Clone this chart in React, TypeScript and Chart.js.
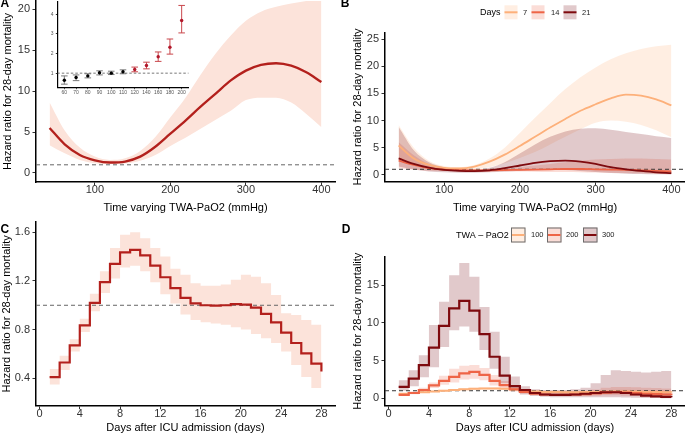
import React, { useEffect, useRef } from 'react';
import { Chart, registerables } from 'chart.js';

Chart.register(...registerables);

const FONT = "'Liberation Sans', Arimo, Arial, Helvetica, sans-serif";

// ---------- Panel A: overall HR vs TWA-PaO2 ----------
const pao2 = [40, 60, 80, 100, 120, 140, 160, 180, 200, 220, 240, 260, 280, 300, 320, 340, 360, 380, 400];
const hrA = [5.5, 3.5, 2.2, 1.55, 1.28, 1.4, 2.0, 3.2, 4.8, 6.4, 8.1, 9.7, 11.3, 12.5, 13.2, 13.4, 13.1, 12.3, 11.1];
const hrAHigh = [8.6, 5.2, 3.1, 2.0, 1.6, 1.8, 2.7, 4.4, 6.8, 9.2, 12.0, 14.6, 16.8, 18.6, 19.7, 20.3, 20.7, 21.0, 21.3];
const hrALow = [3.4, 2.4, 1.6, 1.2, 1.1, 1.15, 1.5, 2.2, 3.3, 4.3, 5.4, 6.5, 7.6, 8.9, 9.2, 9.2, 8.6, 7.2, 5.6];

// ---------- Inset: categorical TWA-PaO2 ----------
const insetCats = ['60', '70', '80', '90', '100', '110', '120', '140', '160', '180', '200'];
const insetHR = [0.64, 0.78, 0.86, 1.02, 1.0, 1.07, 1.19, 1.39, 1.84, 2.32, 3.68];
const insetLow = [0.44, 0.62, 0.76, 0.91, 0.93, 0.97, 1.07, 1.22, 1.6, 1.97, 3.05];
const insetHigh = [0.86, 0.91, 0.97, 1.12, 1.1, 1.17, 1.31, 1.56, 2.08, 2.74, 4.45];
const insetRedStart = 6;

// ---------- Panel B: HR vs TWA-PaO2 by day ----------
const hrDay7 = [5.4, 3.0, 1.8, 1.25, 1.15, 1.5, 2.4, 3.7, 5.3, 7.0, 8.7, 10.3, 11.8, 13.0, 14.1, 14.8, 14.6, 13.9, 12.8];
const hrDay7High = [9.2, 5.0, 2.6, 1.6, 1.4, 1.8, 3.0, 5.0, 7.7, 10.5, 13.2, 15.8, 18.0, 19.8, 21.3, 22.4, 23.2, 23.7, 24.0];
const hrDay7Low = [2.8, 1.8, 1.2, 0.95, 0.85, 1.0, 1.4, 2.1, 3.1, 4.2, 5.6, 7.0, 8.4, 9.6, 10.0, 9.8, 9.2, 8.2, 6.9];
const hrDay14 = [2.6, 1.8, 1.2, 0.95, 0.85, 0.8, 0.8, 0.85, 0.9, 0.95, 1.0, 1.05, 1.05, 1.0, 0.95, 0.9, 0.8, 0.7, 0.6];
const hrDay14High = [6.0, 3.6, 2.0, 1.3, 1.1, 1.05, 1.1, 1.2, 1.4, 1.7, 2.0, 2.3, 2.6, 2.8, 2.9, 3.0, 3.0, 2.9, 2.8];
const hrDay14Low = [1.2, 0.9, 0.75, 0.7, 0.65, 0.6, 0.6, 0.6, 0.6, 0.55, 0.5, 0.5, 0.45, 0.4, 0.35, 0.3, 0.25, 0.2, 0.15];
const hrDay21 = [3.0, 2.0, 1.3, 0.9, 0.7, 0.65, 0.8, 1.2, 1.7, 2.2, 2.5, 2.6, 2.4, 2.0, 1.4, 1.0, 0.7, 0.45, 0.3];
const hrDay21High = [8.8, 4.5, 2.3, 1.4, 1.0, 0.95, 1.3, 2.3, 3.9, 5.6, 7.0, 8.0, 8.5, 8.6, 8.3, 7.9, 7.5, 7.1, 6.8];
const hrDay21Low = [1.5, 0.95, 0.6, 0.45, 0.35, 0.35, 0.45, 0.6, 0.75, 0.85, 0.9, 0.85, 0.7, 0.5, 0.3, 0.2, 0.12, 0.07, 0.04];
const legendDays = ['7', '14', '21'];

// ---------- Panel C: HR over days ----------
const days = [1, 2, 3, 4, 5, 6, 7, 8, 9, 10, 11, 12, 13, 14, 15, 16, 17, 18, 19, 20, 21, 22, 23, 24, 25, 26, 27, 28];
const hrC = [0.41, 0.53, 0.67, 0.835, 1.02, 1.19, 1.34, 1.435, 1.455, 1.41, 1.325, 1.23, 1.14, 1.06, 1.015, 1.0, 0.997, 1.0, 1.01, 1.005, 0.98, 0.93, 0.86, 0.775, 0.69, 0.605, 0.52, 0.455];
const hrCHigh = [0.477, 0.586, 0.72, 0.89, 1.095, 1.28, 1.47, 1.58, 1.6, 1.55, 1.47, 1.4, 1.3, 1.25, 1.18, 1.16, 1.16, 1.17, 1.21, 1.25, 1.235, 1.18, 1.085, 0.935, 0.92, 0.88, 0.84, 0.84];
const hrCLow = [0.35, 0.468, 0.62, 0.78, 0.95, 1.1, 1.22, 1.31, 1.325, 1.28, 1.19, 1.09, 1.015, 0.925, 0.88, 0.86, 0.85, 0.84, 0.82, 0.8, 0.765, 0.73, 0.69, 0.62, 0.51, 0.41, 0.32, 0.32];

// ---------- Panel D: HR over days by TWA-PaO2 ----------
const hrD100 = [0.6, 0.7, 0.8, 0.9, 1.0, 1.1, 1.2, 1.25, 1.3, 1.3, 1.25, 1.15, 1.0, 0.9, 0.85, 0.82, 0.8, 0.8, 0.82, 0.85, 0.88, 0.9, 0.9, 0.88, 0.85, 0.82, 0.8, 0.78];
const hrD100High = [0.7, 0.8, 0.9, 1.0, 1.12, 1.22, 1.33, 1.4, 1.45, 1.45, 1.4, 1.3, 1.13, 1.02, 0.97, 0.95, 0.95, 0.96, 1.0, 1.05, 1.1, 1.12, 1.12, 1.1, 1.08, 1.06, 1.05, 1.04];
const hrD100Low = [0.5, 0.6, 0.7, 0.8, 0.9, 0.98, 1.07, 1.1, 1.15, 1.15, 1.1, 1.0, 0.88, 0.8, 0.74, 0.7, 0.67, 0.66, 0.66, 0.67, 0.68, 0.7, 0.68, 0.66, 0.64, 0.6, 0.57, 0.55];
const hrD200 = [0.45, 0.7, 1.1, 1.7, 2.3, 2.85, 3.3, 3.5, 3.1, 2.3, 1.75, 1.2, 0.85, 0.6, 0.5, 0.45, 0.45, 0.5, 0.55, 0.65, 0.75, 0.8, 0.75, 0.7, 0.6, 0.55, 0.5, 0.45];
const hrD200High = [0.6, 0.9, 1.4, 2.1, 3.0, 3.9, 4.3, 4.4, 4.0, 3.1, 2.3, 1.6, 1.1, 0.8, 0.7, 0.65, 0.7, 0.8, 0.95, 1.15, 1.4, 1.5, 1.5, 1.45, 1.4, 1.35, 1.3, 1.3];
const hrD200Low = [0.3, 0.55, 0.85, 1.35, 1.8, 2.1, 2.5, 2.6, 2.4, 1.7, 1.3, 0.9, 0.65, 0.45, 0.35, 0.3, 0.3, 0.3, 0.3, 0.35, 0.4, 0.4, 0.35, 0.3, 0.25, 0.2, 0.18, 0.15];
const hrD300 = [1.5, 2.6, 4.4, 6.7, 9.6, 11.9, 12.9, 11.6, 8.5, 5.5, 3.0, 1.6, 1.1, 0.7, 0.5, 0.45, 0.45, 0.5, 0.6, 0.7, 0.8, 0.8, 0.7, 0.5, 0.35, 0.25, 0.2, 0.15];
const hrD300High = [2.4, 3.7, 5.7, 9.7, 12.8, 16.3, 17.9, 16.1, 12.1, 8.8, 5.5, 2.9, 1.6, 1.2, 1.1, 1.1, 1.1, 1.2, 1.4, 2.0, 3.1, 3.7, 3.6, 3.5, 3.4, 3.5, 3.6, 3.6];
const hrD300Low = [1.0, 1.6, 2.8, 4.1, 6.8, 9.0, 9.5, 8.8, 6.4, 3.9, 2.0, 1.0, 0.5, 0.3, 0.2, 0.15, 0.15, 0.15, 0.15, 0.15, 0.15, 0.15, 0.12, 0.08, 0.05, 0.03, 0.02, 0.02];
const legendPaO2 = ['100', '200', '300'];

// ---------- Axis ticks ----------
const ticksPaO2 = [100, 200, 300, 400];
const ticksAY = [0, 5, 10, 15, 20];
const ticksBY = [0, 5, 10, 15, 20, 25];
const ticksDays = [0, 4, 8, 12, 16, 20, 24, 28];
const ticksCY = [0.4, 0.8, 1.2, 1.6];
const ticksDY = [0, 5, 10, 15];
const ticksInsetY = [1, 2, 3, 4];
const ticksInsetX = [1, 2, 3, 4, 5, 6, 7, 8, 9, 10, 11];

// ---------- Colours ----------
const RED = '#B3201C';
const RED_BAND = '#FCE3DA';
const C_LIGHT = '#FDB07A';
const C_MID = '#EE6547';
const C_DARK = '#7E0A0E';
const B_LIGHT = 'rgba(253,176,122,0.22)';
const B_MID = 'rgba(238,101,71,0.22)';
const B_DARK = 'rgba(120,10,20,0.22)';

const xy = (xs: number[], ys: number[]) => xs.map((x, i) => ({ x, y: ys[i] }));

function lineDs(data: any[], color: string, width: number, extra: any = {}) {
  return { data, borderColor: color, borderWidth: width, pointRadius: 0, fill: false, ...extra };
}
function bandDs(upper: any[], lower: any[], color: string, extra: any = {}) {
  return [
    { data: upper, borderWidth: 0, borderColor: 'rgba(0,0,0,0)', backgroundColor: color, fill: '+1', pointRadius: 0, ...extra },
    { data: lower, borderWidth: 0, borderColor: 'rgba(0,0,0,0)', fill: false, pointRadius: 0, ...extra },
  ];
}
function refLine(x0: number, x1: number, color: string) {
  return { data: [{ x: x0, y: 1 }, { x: x1, y: 1 }], borderColor: color, borderWidth: 1, borderDash: [4, 3], pointRadius: 0, fill: false };
}

type ScaleOpt = {
  axis: 'x' | 'y'; min: number; max: number; ticks: number[]; size: number;
  title?: string; titlePad?: number; fmt?: (v: number) => string;
  tickFont?: number; tickLen?: number; tickPad?: number; borderW?: number; tickColor?: string; labelColor?: string;
};
function scale(o: ScaleOpt) {
  const fmt = o.fmt || ((v: number) => String(v));
  return {
    type: 'linear',
    position: o.axis === 'x' ? 'bottom' : 'left',
    min: o.min,
    max: o.max,
    afterBuildTicks: (s: any) => { s.ticks = o.ticks.map((v) => ({ value: v })); },
    afterFit: (s: any) => {
      if (o.axis === 'x') s.height = o.size; else s.width = o.size;
      s.paddingTop = 0; s.paddingBottom = 0; s.paddingLeft = 0; s.paddingRight = 0;
    },
    grid: { display: true, drawOnChartArea: false, drawTicks: true, tickLength: o.tickLen ?? 3.5, tickColor: o.tickColor || '#333', tickWidth: 1 },
    border: { display: true, color: '#000', width: o.borderW ?? 1.5 },
    ticks: {
      autoSkip: false, maxRotation: 0, minRotation: 0, padding: o.tickPad ?? 2.5,
      color: o.labelColor || '#333', font: { family: FONT, size: o.tickFont ?? 11 },
      callback: (v: any) => fmt(Number(v)),
    },
    title: {
      display: !!o.title, text: o.title || '', color: '#000', font: { family: FONT, size: 11 },
      padding: o.axis === 'x' ? { top: 0, bottom: o.titlePad ?? 3 } : { top: o.titlePad ?? 1, bottom: 0 },
    },
  };
}

function baseOptions(pad: { top: number; right: number }, x: any, y: any) {
  return {
    animation: false,
    responsive: false,
    maintainAspectRatio: false,
    devicePixelRatio: 1,
    events: [],
    layout: { padding: { top: pad.top, right: pad.right, left: 0, bottom: 0 }, autoPadding: false },
    plugins: { legend: { display: false }, tooltip: { enabled: false }, title: { display: false } },
    scales: { x, y },
  };
}

function letterPlugin(letter: string, x: number, y: number, extra?: (ctx: CanvasRenderingContext2D) => void) {
  return {
    id: 'deco' + letter,
    afterDraw(chart: any) {
      const ctx: CanvasRenderingContext2D = chart.ctx;
      ctx.save();
      ctx.fillStyle = '#000';
      ctx.font = `bold 12px ${FONT}`;
      ctx.textAlign = 'left';
      ctx.textBaseline = 'alphabetic';
      ctx.fillText(letter, x, y);
      if (extra) extra(ctx);
      ctx.restore();
    },
  };
}

const YTITLE = 'Hazard ratio for 28-day mortality';

function configA() {
  const datasets = [
    lineDs(xy(pao2, hrA), RED, 2.3, { cubicInterpolationMode: 'monotone' }),
    refLine(22, 418, '#666'),
    ...bandDs(xy(pao2, hrAHigh), xy(pao2, hrALow), RED_BAND, { cubicInterpolationMode: 'monotone' }),
  ];
  return {
    type: 'line',
    data: { datasets },
    options: baseOptions({ top: 1, right: 5 },
      scale({ axis: 'x', min: 22, max: 418, ticks: ticksPaO2, size: 36, title: 'Time varying TWA-PaO2 (mmHg)', titlePad: 3.4, tickPad: -2.2 }),
      scale({ axis: 'y', min: -1.1, max: 21.0, ticks: ticksAY, size: 36, title: YTITLE, titlePad: 1.4 })),
    plugins: [letterPlugin('A', 0.5, 7)],
  };
}

function configInset() {
  const idx = insetCats.map((_, i) => i + 1);
  const bars = (from: number, to: number) => {
    const out: any[] = [];
    for (let i = from; i < to; i++) {
      const x = idx[i];
      out.push({ x: x - 0.28, y: insetLow[i] }, { x: x + 0.28, y: insetLow[i] }, { x, y: null });
      out.push({ x, y: insetLow[i] }, { x, y: insetHigh[i] }, { x, y: null });
      out.push({ x: x - 0.28, y: insetHigh[i] }, { x: x + 0.28, y: insetHigh[i] }, { x, y: null });
    }
    return out;
  };
  const pts = (from: number, to: number) => idx.slice(from, to).map((x, k) => ({ x, y: insetHR[from + k] }));
  const n = insetCats.length;
  const datasets = [
    { data: pts(0, insetRedStart), showLine: false, pointRadius: 1.7, pointBackgroundColor: '#000', pointBorderWidth: 0 },
    { data: pts(insetRedStart, n), showLine: false, pointRadius: 1.7, pointBackgroundColor: '#B2182B', pointBorderWidth: 0 },
    lineDs(bars(0, insetRedStart), '#7a7a7a', 1, { spanGaps: false }),
    lineDs(bars(insetRedStart, n), '#C9474C', 1, { spanGaps: false }),
    { data: [{ x: 0.4, y: 1 }, { x: 11.6, y: 1 }], borderColor: '#555', borderWidth: 0.8, borderDash: [2.5, 2], pointRadius: 0, fill: false },
  ];
  return {
    type: 'line',
    data: { datasets },
    options: baseOptions({ top: 1.7, right: 6.3 },
      scale({ axis: 'x', min: 0.4, max: 11.6, ticks: ticksInsetX, size: 12.3, fmt: (v) => insetCats[v - 1] || '', tickFont: 5, tickLen: 1.5, tickPad: 0, borderW: 1.2, labelColor: '#555' }),
      scale({ axis: 'y', min: 0.26, max: 4.64, ticks: ticksInsetY, size: 17.3, tickFont: 5, tickLen: 1.5, tickPad: 2.3, borderW: 1.2, labelColor: '#555' })),
  };
}

function configB() {
  const cm = { cubicInterpolationMode: 'monotone' };
  const datasets = [
    lineDs(xy(pao2, hrDay21), C_DARK, 1.8, cm),
    lineDs(xy(pao2, hrDay14), C_MID, 1.8, cm),
    lineDs(xy(pao2, hrDay7), C_LIGHT, 1.8, cm),
    refLine(22, 418, '#333'),
    ...bandDs(xy(pao2, hrDay21High), xy(pao2, hrDay21Low), B_DARK, cm),
    ...bandDs(xy(pao2, hrDay14High), xy(pao2, hrDay14Low), B_MID, cm),
    ...bandDs(xy(pao2, hrDay7High), xy(pao2, hrDay7Low), B_LIGHT, cm),
  ];
  const lineCols = [C_LIGHT, C_MID, C_DARK];
  const fillCols = [B_LIGHT, B_MID, B_DARK];
  const keyX = [164.5, 191.5, 223.5];
  const labX = [183, 211, 242];
  const legend = (ctx: CanvasRenderingContext2D) => {
    ctx.font = `9px ${FONT}`;
    ctx.textBaseline = 'middle';
    ctx.fillStyle = '#000';
    ctx.fillText('Days', 140, 12.3);
    for (let i = 0; i < 3; i++) {
      ctx.fillStyle = fillCols[i];
      ctx.fillRect(keyX[i], 5.3, 13, 14);
      ctx.strokeStyle = lineCols[i];
      ctx.lineWidth = 2;
      ctx.beginPath(); ctx.moveTo(keyX[i], 12.3); ctx.lineTo(keyX[i] + 13, 12.3); ctx.stroke();
      ctx.fillStyle = '#222';
      ctx.font = `7.5px ${FONT}`;
      ctx.fillText(legendDays[i], labX[i], 12.5);
    }
  };
  return {
    type: 'line',
    data: { datasets },
    options: baseOptions({ top: 32.3, right: 0 },
      scale({ axis: 'x', min: 22, max: 418, ticks: ticksPaO2, size: 36.3, title: 'Time varying TWA-PaO2 (mmHg)', titlePad: 3.4, tickPad: -2.2 }),
      scale({ axis: 'y', min: -1.29, max: 26.29, ticks: ticksBY, size: 45, title: YTITLE, titlePad: 10.9 })),
    plugins: [letterPlugin('B', 0.7, 7, legend)],
  };
}

function configC() {
  const st = { stepped: 'before' };
  const datasets = [
    lineDs(xy(days, hrC), RED, 2.2, st),
    refLine(-0.35, 29.35, '#666'),
    ...bandDs(xy(days, hrCHigh), xy(days, hrCLow), RED_BAND, st),
  ];
  return {
    type: 'line',
    data: { datasets },
    options: baseOptions({ top: 4, right: 5 },
      scale({ axis: 'x', min: -0.35, max: 29.35, ticks: ticksDays, size: 30.3, title: 'Days after ICU admission (days)', titlePad: 1.6, tickPad: -2 }),
      scale({ axis: 'y', min: 0.175, max: 1.684, ticks: ticksCY, size: 36, title: YTITLE, titlePad: 0, fmt: (v) => v.toFixed(1) })),
    plugins: [letterPlugin('C', 0.5, 15.3)],
  };
}

function configD() {
  const st = { stepped: 'before' };
  const datasets = [
    lineDs(xy(days, hrD300), C_DARK, 2.2, st),
    lineDs(xy(days, hrD200), C_MID, 2.2, st),
    lineDs(xy(days, hrD100), C_LIGHT, 2, st),
    refLine(-0.35, 29.35, '#333'),
    ...bandDs(xy(days, hrD300High), xy(days, hrD300Low), B_DARK, st),
    ...bandDs(xy(days, hrD200High), xy(days, hrD200Low), B_MID, st),
    ...bandDs(xy(days, hrD100High), xy(days, hrD100Low), B_LIGHT, st),
  ];
  const lineCols = [C_LIGHT, C_MID, C_DARK];
  const fillCols = [B_LIGHT, B_MID, B_DARK];
  const keyX = [171, 207, 243];
  const labX = [191, 226, 262];
  const legend = (ctx: CanvasRenderingContext2D) => {
    ctx.font = `9px ${FONT}`;
    ctx.textBaseline = 'middle';
    ctx.fillStyle = '#000';
    ctx.fillText('TWA \u2013 PaO2', 116, 17.3);
    for (let i = 0; i < 3; i++) {
      ctx.fillStyle = '#fff';
      ctx.fillRect(keyX[i], 9.5, 14.5, 15);
      ctx.fillStyle = fillCols[i];
      ctx.fillRect(keyX[i], 9.5, 14.5, 15);
      ctx.strokeStyle = '#6b6b6b';
      ctx.lineWidth = 1;
      ctx.strokeRect(keyX[i] + 0.5, 10, 13.5, 14);
      ctx.strokeStyle = lineCols[i];
      ctx.lineWidth = 2;
      ctx.beginPath(); ctx.moveTo(keyX[i] + 1, 17); ctx.lineTo(keyX[i] + 13.5, 17); ctx.stroke();
      ctx.fillStyle = '#222';
      ctx.font = `7.5px ${FONT}`;
      ctx.fillText(legendPaO2[i], labX[i], 17.3);
    }
  };
  return {
    type: 'line',
    data: { datasets },
    options: baseOptions({ top: 38.7, right: 0 },
      scale({ axis: 'x', min: -0.35, max: 29.35, ticks: ticksDays, size: 30.3, title: 'Days after ICU admission (days)', titlePad: 1.6, tickPad: -1.5 }),
      scale({ axis: 'y', min: -0.98, max: 18.75, ticks: ticksDY, size: 45, title: YTITLE, titlePad: 10.9 })),
    plugins: [letterPlugin('D', 1.7, 15.3, legend)],
  };
}

function ChartBox({ left, top, width, height, make }: { left: number; top: number; width: number; height: number; make: () => any }) {
  const ref = useRef<HTMLCanvasElement | null>(null);
  useEffect(() => {
    if (!ref.current) return;
    const chart = new Chart(ref.current, make());
    return () => chart.destroy();
  }, []);
  return (
    <canvas
      ref={ref}
      width={width}
      height={height}
      style={{ position: 'absolute', left, top, width, height, display: 'block' }}
    />
  );
}

export default function App() {
  return (
    <div style={{ position: 'absolute', left: 0, top: 0, width: 685, height: 436, background: '#fff', overflow: 'hidden' }}>
      <ChartBox left={0} top={0} width={340} height={218} make={configA} />
      <ChartBox left={40} top={0} width={155} height={100} make={configInset} />
      <ChartBox left={340} top={0} width={345} height={218} make={configB} />
      <ChartBox left={0} top={218} width={340} height={218} make={configC} />
      <ChartBox left={340} top={218} width={345} height={218} make={configD} />
    </div>
  );
}
